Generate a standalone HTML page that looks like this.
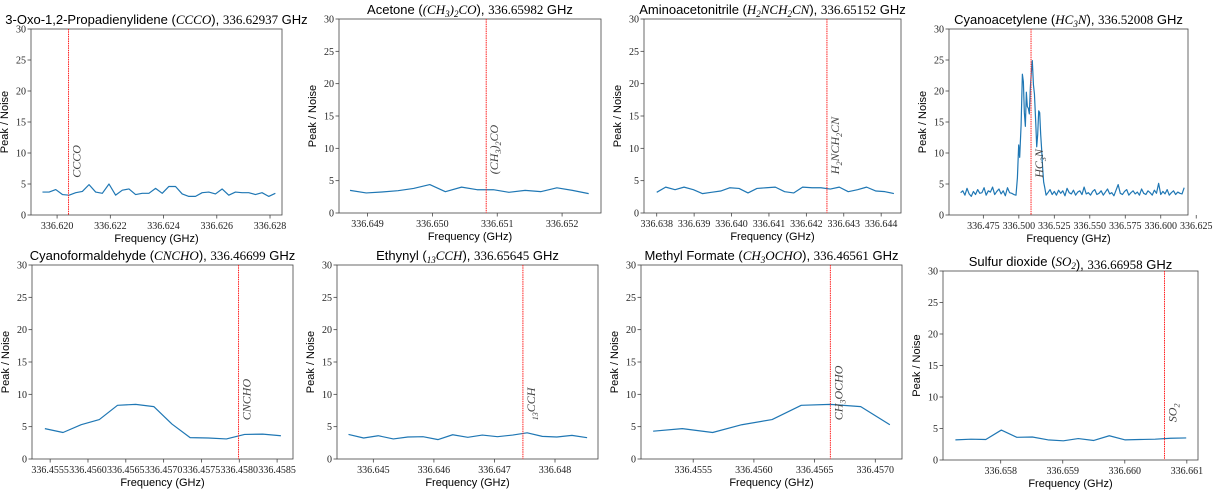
<!DOCTYPE html>
<html><head><meta charset="utf-8"><style>
html,body{margin:0;padding:0;background:#fff;}
svg{display:block;}
.tick{font-family:"Liberation Serif",serif;font-size:10px;fill:#222;}
.ttl{font-family:"Liberation Sans",sans-serif;font-size:13px;fill:#000;}
.ax{font-family:"Liberation Sans",sans-serif;font-size:11px;fill:#000;}
.m{font-family:"Liberation Serif",serif;font-style:italic;}
.n{font-family:"Liberation Serif",serif;}
.lbl{font-family:"Liberation Serif",serif;font-style:italic;font-size:12px;fill:#444;}
</style></head><body>
<svg id="fig" width="1217" height="492" xmlns="http://www.w3.org/2000/svg"></svg>
<script>
// ---- data arrays ----
const yTicks=[0,5,10,15,20,25,30];

const p1Freq=[336.61945,336.61970,336.61995,336.62020,336.62045,336.62070,336.62095,336.62120,336.62145,336.62170,336.62195,336.62220,336.62245,336.62270,336.62295,336.62320,336.62345,336.62370,336.62395,336.62420,336.62445,336.62470,336.62495,336.62520,336.62545,336.62570,336.62595,336.62620,336.62645,336.62670,336.62695,336.62720,336.62745,336.62770,336.62795,336.62820];
const p1Snr=[3.7,3.7,4.1,3.3,3.2,3.6,3.8,4.9,3.7,3.5,5.0,3.2,4.0,4.2,3.3,3.5,3.5,4.3,3.5,4.6,4.6,3.4,3.0,3.0,3.6,3.7,3.4,4.2,3.2,3.7,3.6,3.6,3.3,3.6,3.0,3.5];
const p1Ticks=[336.620,336.622,336.624,336.626,336.628];

const p2Freq=[336.64873,336.64898,336.64922,336.64947,336.64971,336.64996,336.65020,336.65045,336.65069,336.65094,336.65118,336.65143,336.65167,336.65192,336.65216,336.65241];
const p2Snr=[3.5,3.1,3.25,3.45,3.8,4.4,3.3,4.0,3.6,3.6,3.2,3.5,3.3,3.9,3.5,3.0];
const p2Ticks=[336.649,336.650,336.651,336.652];

const p3Freq=[336.63800,336.63824,336.63849,336.63873,336.63898,336.63922,336.63946,336.63971,336.63995,336.64020,336.64044,336.64068,336.64093,336.64117,336.64142,336.64166,336.64190,336.64215,336.64239,336.64264,336.64288,336.64312,336.64337,336.64361,336.64386,336.64410,336.64434];
const p3Snr=[3.2,4.0,3.6,4.0,3.6,3.0,3.2,3.4,3.9,3.8,3.1,3.8,3.9,4.0,3.3,3.1,4.0,3.9,3.9,3.7,4.0,3.3,3.6,4.0,3.4,3.3,3.0];
const p3Ticks=[336.638,336.639,336.640,336.641,336.642,336.643,336.644];

const p4Freq=[336.4590,336.4605,336.4620,336.4635,336.4650,336.4665,336.4680,336.4695,336.4710,336.4725,336.4740,336.4755,336.4770,336.4785,336.4800,336.4815,336.4830,336.4845,336.4860,336.4875,336.4890,336.4905,336.4920,336.4935,336.4950,336.4965,336.4980,
336.4990,336.4999,336.5006,336.5016,336.5025,336.5032,336.5039,336.5046,336.5053,336.5060,336.5067,336.5074,336.5081,336.5088,336.5095,336.5103,336.5110,336.5119,336.5126,336.5133,336.5140,336.5147,336.5154,336.5161,336.5168,336.5175,336.5182,336.5192,
336.5205,336.5220,336.5235,336.5250,336.5265,336.5280,336.5295,336.5310,336.5325,336.5340,336.5355,336.5370,336.5385,336.5400,336.5415,336.5430,336.5445,336.5460,336.5475,336.5490,336.5505,336.5520,336.5535,336.5550,336.5565,336.5580,336.5595,336.5610,336.5625,336.5640,336.5655,336.5670,336.5685,336.5700,336.5715,336.5730,336.5745,336.5760,336.5775,336.5790,336.5805,336.5820,336.5835,336.5850,336.5865,336.5880,336.5895,336.5910,336.5925,336.5940,336.5955,336.5970,336.5985,336.6000,336.6015,336.6030,336.6045,336.6060,336.6075,336.6090,336.6105,336.6120,336.6135,336.6150,336.6165,336.6180];
const p4Snr=[3.6,3.9,3.2,4.3,3.4,3.0,3.8,3.3,4.1,3.5,3.6,4.4,3.2,3.9,3.7,4.5,3.3,3.8,4.2,3.4,3.9,3.1,4.4,3.6,3.5,3.3,3.2,
6.0,11.3,9.3,14.5,22.7,21.5,16.5,14.3,19.8,17.5,17.2,16.3,20.5,23.0,24.9,21.0,19.5,15.0,11.0,13.0,16.8,16.5,13.0,10.5,7.5,5.3,4.5,3.2,
3.6,4.1,3.3,3.8,3.2,4.0,3.5,3.9,3.1,4.3,3.6,3.4,4.0,3.2,3.7,3.9,3.3,4.5,3.4,3.6,3.2,3.8,4.1,3.3,3.5,3.9,3.2,3.7,4.2,3.4,3.6,3.1,4.0,4.9,3.5,3.3,3.8,4.1,3.2,3.6,3.9,3.4,3.7,3.2,4.2,3.5,3.3,3.9,3.6,3.2,4.0,3.5,5.1,3.3,3.8,3.4,4.1,3.2,3.6,3.9,3.3,3.7,3.5,3.4,4.4];
const p4Ticks=[336.475,336.500,336.525,336.550,336.575,336.600,336.625];

const p5Freq=[336.45543,336.45567,336.45591,336.45615,336.45639,336.45663,336.45687,336.45711,336.45735,336.45759,336.45783,336.45807,336.45831,336.45855];
const p5Snr=[4.7,4.1,5.3,6.1,8.3,8.45,8.1,5.4,3.3,3.25,3.1,3.8,3.85,3.6];
const p5Ticks=[336.4555,336.4560,336.4565,336.4570,336.4575,336.4580,336.4585];

const p6Freq=[336.64459,336.64484,336.64508,336.64533,336.64557,336.64582,336.64607,336.64631,336.64656,336.64680,336.64705,336.64730,336.64754,336.64779,336.64803,336.64828,336.64853];
const p6Snr=[3.8,3.25,3.6,3.1,3.4,3.45,3.0,3.75,3.35,3.7,3.45,3.7,4.05,3.5,3.4,3.65,3.3];
const p6Ticks=[336.645,336.646,336.647,336.648];

const p7Freq=[336.45517,336.45541,336.45566,336.45590,336.45615,336.45639,336.45663,336.45688,336.45712];
const p7Snr=[4.3,4.7,4.1,5.3,6.1,8.3,8.45,8.1,5.3];
const p7Ticks=[336.4555,336.4560,336.4565,336.4570];

const p8Freq=[336.65727,336.65752,336.65776,336.65801,336.65826,336.65851,336.65876,336.65901,336.65925,336.65950,336.65975,336.66000,336.66024,336.66049,336.66074,336.66099];
const p8Snr=[3.2,3.3,3.25,4.75,3.6,3.65,3.2,3.05,3.4,3.1,3.85,3.2,3.25,3.3,3.45,3.5];
const p8Ticks=[336.658,336.659,336.660,336.661];

const lineFreqs=[336.62043,336.65083,336.64255,336.5086,336.45799,336.64747,336.45663,336.66064];
const xDomains=[[336.61902,336.62845],[336.64856,336.65260],[336.63766,336.64453],[336.4508,336.6192],
                [336.45526,336.45871],[336.64440,336.64871],[336.45507,336.45722],[336.65707,336.66118]];

const panels=[
 {id:'ccco',L:31,T:29,R:282,B:215,f:p1Freq,v:p1Snr,t:p1Ticks,d:3,
  title:'3-Oxo-1,2-Propadienylidene (<tspan class="m">CCCO</tspan>), <tspan class="n">336.62937</tspan> GHz',lab:'CCCO'},
 {id:'acetone',L:339,T:19,R:601,B:213,f:p2Freq,v:p2Snr,t:p2Ticks,d:3,
  title:'Acetone (<tspan class="m">(CH<tspan dy="3" font-size="9">3</tspan><tspan dy="-3">)</tspan><tspan dy="3" font-size="9">2</tspan><tspan dy="-3">CO</tspan></tspan>), <tspan class="n">336.65982</tspan> GHz',
  lab:'(CH<tspan dy="3" font-size="8">3</tspan><tspan dy="-3">)</tspan><tspan dy="3" font-size="8">2</tspan><tspan dy="-3">CO</tspan>'},
 {id:'aminoacetonitrile',L:644,T:19,R:901,B:213,f:p3Freq,v:p3Snr,t:p3Ticks,d:3,
  title:'Aminoacetonitrile (<tspan class="m">H<tspan dy="3" font-size="9">2</tspan><tspan dy="-3">NCH</tspan><tspan dy="3" font-size="9">2</tspan><tspan dy="-3">CN</tspan></tspan>), <tspan class="n">336.65152</tspan> GHz',
  lab:'H<tspan dy="3" font-size="8">2</tspan><tspan dy="-3">NCH</tspan><tspan dy="3" font-size="8">2</tspan><tspan dy="-3">CN</tspan>'},
 {id:'cyanoacetylene',L:949,T:29,R:1188,B:215,f:p4Freq,v:p4Snr,t:p4Ticks,d:3,
  title:'Cyanoacetylene (<tspan class="m">HC<tspan dy="3" font-size="9">3</tspan><tspan dy="-3">N</tspan></tspan>), <tspan class="n">336.52008</tspan> GHz',
  lab:'HC<tspan dy="3" font-size="8">3</tspan><tspan dy="-3">N</tspan>'},
 {id:'cyanoformaldehyde',L:32,T:265,R:293,B:459,f:p5Freq,v:p5Snr,t:p5Ticks,d:4,
  title:'Cyanoformaldehyde (<tspan class="m">CNCHO</tspan>), <tspan class="n">336.46699</tspan> GHz',lab:'CNCHO'},
 {id:'ethynyl',L:337,T:265,R:598,B:459,f:p6Freq,v:p6Snr,t:p6Ticks,d:3,
  title:'Ethynyl (<tspan class="m"><tspan dy="3" font-size="9">13</tspan><tspan dy="-3">CCH</tspan></tspan>), <tspan class="n">336.65645</tspan> GHz',
  lab:'<tspan dy="3" font-size="8">13</tspan><tspan dy="-3">CCH</tspan>'},
 {id:'methyl-formate',L:641,T:265,R:902,B:459,f:p7Freq,v:p7Snr,t:p7Ticks,d:4,
  title:'Methyl Formate (<tspan class="m">CH<tspan dy="3" font-size="9">3</tspan><tspan dy="-3">OCHO</tspan></tspan>), <tspan class="n">336.46561</tspan> GHz',
  lab:'CH<tspan dy="3" font-size="8">3</tspan><tspan dy="-3">OCHO</tspan>'},
 {id:'sulfur-dioxide',L:943,T:271,R:1198,B:460,f:p8Freq,v:p8Snr,t:p8Ticks,d:3,
  title:'Sulfur dioxide (<tspan class="m">SO<tspan dy="3" font-size="9">2</tspan><tspan dy="-3"></tspan></tspan>), <tspan class="n">336.66958</tspan> GHz',
  lab:'SO<tspan dy="3" font-size="8">2</tspan>'}
];

const NS='http://www.w3.org/2000/svg';
const fig=document.getElementById('fig');
function mk(tag,parent){const e=document.createElementNS(NS,tag);parent.appendChild(e);return e;}

panels.forEach((p,k)=>{
  const g=mk('g',fig);
  
  
  const x0=xDomains[k][0],x1=xDomains[k][1];
  const xs=f=>p.L+(f-x0)/(x1-x0)*(p.R-p.L);
  const ys=v=>p.B-(v/30)*(p.B-p.T);
  const r=mk('rect',g);
  r.setAttribute('x',p.L);r.setAttribute('y',p.T);r.setAttribute('width',p.R-p.L);r.setAttribute('height',p.B-p.T);
  r.setAttribute('fill','none');r.setAttribute('stroke','#444');r.setAttribute('stroke-width','0.8');
  
  
  yTicks.forEach(v=>{
    const y=ys(v);
    const l=mk('line',g);l.setAttribute('x1',p.L-3.5);l.setAttribute('x2',p.L);l.setAttribute('y1',y);l.setAttribute('y2',y);l.setAttribute('stroke','#444');l.setAttribute('stroke-width','0.8');
    const t=mk('text',g);t.setAttribute('class','tick');t.setAttribute('x',p.L-5);t.setAttribute('y',y+3.5);t.setAttribute('text-anchor','end');t.textContent=v;
    
    
  });
  p.t.forEach(v=>{
    const x=xs(v);
    if(x>p.R+40) return;
    const l=mk('line',g);l.setAttribute('x1',x);l.setAttribute('x2',x);l.setAttribute('y1',p.B);l.setAttribute('y2',p.B+3.5);l.setAttribute('stroke','#444');l.setAttribute('stroke-width','0.8');
    const t=mk('text',g);t.setAttribute('class','tick');t.setAttribute('x',x);t.setAttribute('y',p.B+14);t.setAttribute('text-anchor','middle');t.textContent=v.toFixed(p.d);
    
    
  });
  const pl=mk('polyline',g);
  pl.setAttribute('points',p.f.map((f,i)=>xs(f).toFixed(2)+','+ys(p.v[i]).toFixed(2)).join(' '));
  pl.setAttribute('fill','none');pl.setAttribute('stroke','#1f77b4');pl.setAttribute('stroke-width','1.2');pl.setAttribute('stroke-linejoin','round');
  
  
  const lx=xs(lineFreqs[k]);
  const rl=mk('line',g);rl.setAttribute('x1',lx);rl.setAttribute('x2',lx);rl.setAttribute('y1',p.T);rl.setAttribute('y2',p.B);
  rl.setAttribute('stroke','#ff2020');rl.setAttribute('stroke-width','1');rl.setAttribute('stroke-dasharray','1.5,0.8');
  
  
  const lt=mk('text',g);lt.setAttribute('class','lbl');
  lt.setAttribute('transform','translate('+(lx+12)+','+ys(6)+') rotate(-90)');
  lt.innerHTML=p.lab;
  
  
  const tt=mk('text',g);tt.setAttribute('class','ttl');tt.setAttribute('x',(p.L+p.R)/2);tt.setAttribute('y',p.T-5);tt.setAttribute('text-anchor','middle');
  tt.innerHTML=p.title;
  
  
  const xl=mk('text',g);xl.setAttribute('class','ax');xl.setAttribute('x',(p.L+p.R)/2);xl.setAttribute('y',p.B+27);xl.setAttribute('text-anchor','middle');xl.textContent='Frequency (GHz)';
  
  
  const yl=mk('text',g);yl.setAttribute('class','ax');yl.setAttribute('text-anchor','middle');
  yl.setAttribute('transform','translate('+(p.L-23)+','+((p.T+p.B)/2)+') rotate(-90)');yl.textContent='Peak / Noise';
  
  
});
</script>
</body></html>
